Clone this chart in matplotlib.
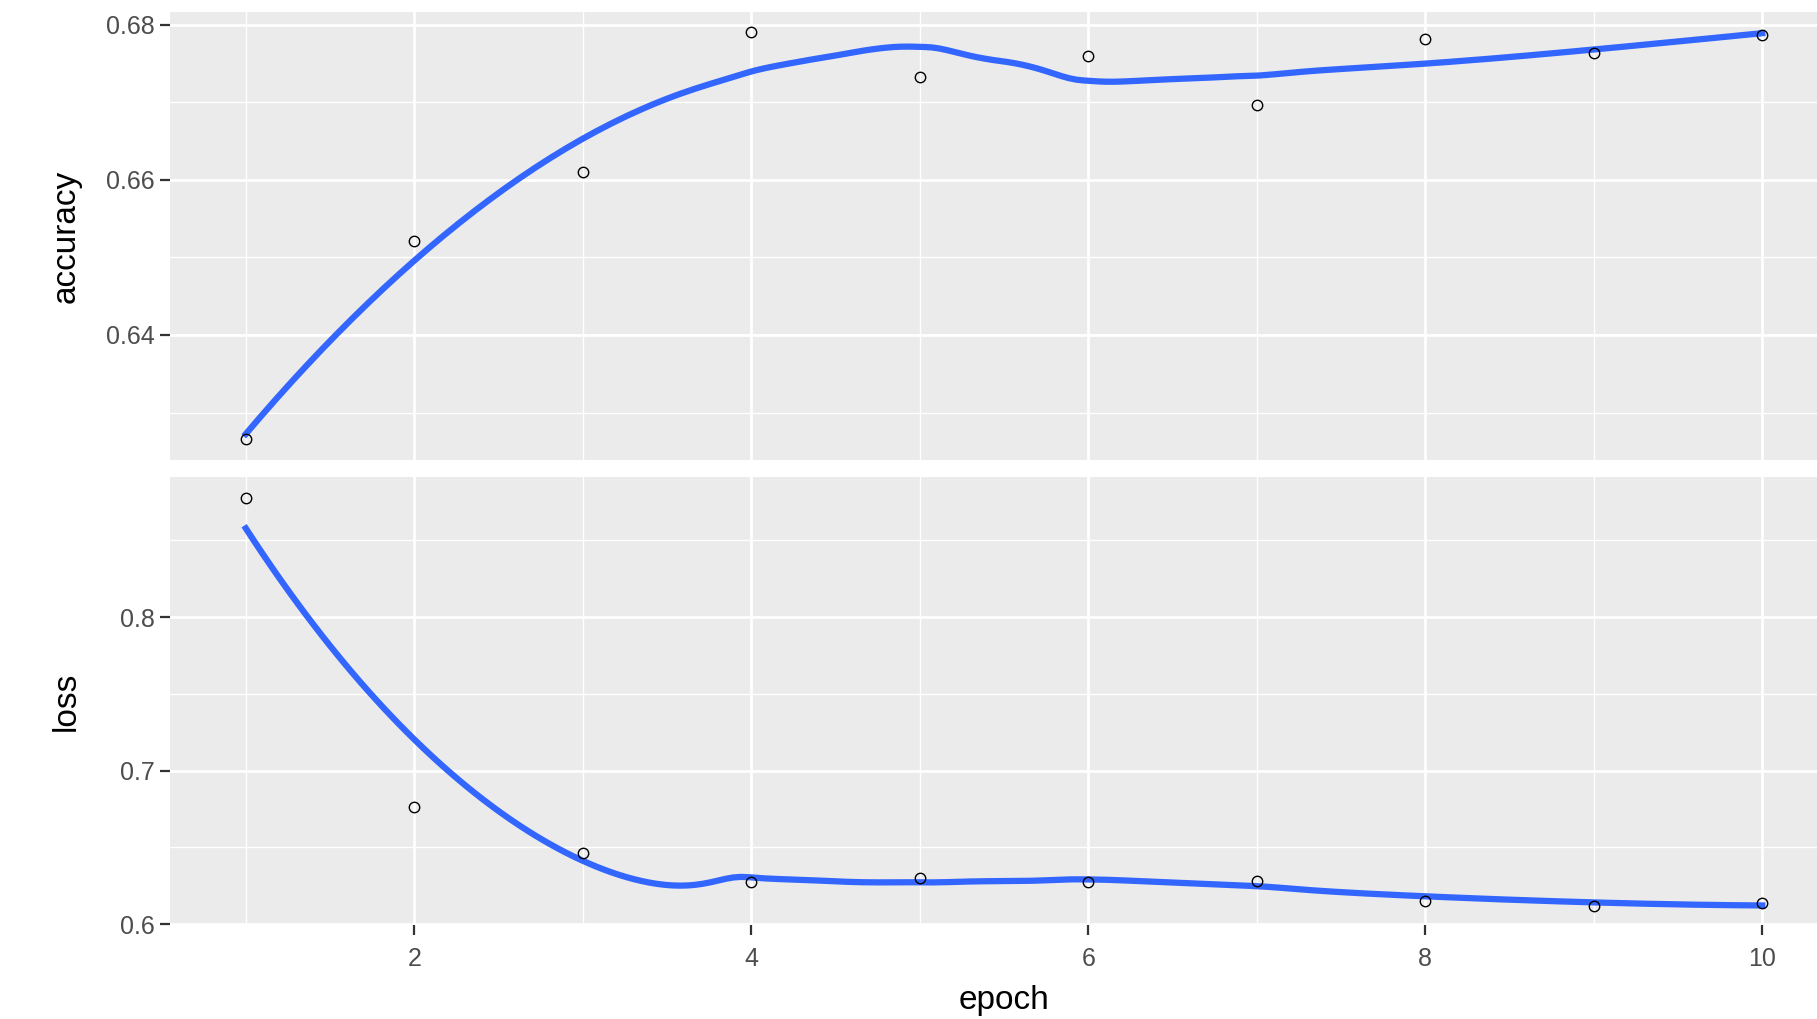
import matplotlib
matplotlib.use("Agg")
import matplotlib.pyplot as plt
import numpy as np

# values
epoch = np.arange(1, 11)
accuracy = [0.6266, 0.6521, 0.6610, 0.6790, 0.6733, 0.6760, 0.6696, 0.6782, 0.6764, 0.6787]
loss = [0.8777, 0.6762, 0.6464, 0.6277, 0.6300, 0.6272, 0.6279, 0.6151, 0.6121, 0.6136]

acc_yticks = [0.64, 0.66, 0.68]
loss_yticks = [0.6, 0.7, 0.8]
x_ticks = [2, 4, 6, 8, 10]

BG = '#EBEBEB'
LINE = '#3366FF'

plt.rcParams['font.family'] = ['Liberation Sans', 'DejaVu Sans']


def loess(x, y, xs, span=0.75):
    # local quadratic fit with tricube weights, like geom_smooth's default
    x = np.asarray(x, float)
    y = np.asarray(y, float)
    q = int(np.floor(len(x) * span))
    fit = []
    for x0 in xs:
        d = np.abs(x - x0)
        h = np.sort(d)[q - 1] * 1.0000001
        w = np.clip(1 - (d / h) ** 3, 0, None) ** 3
        X = np.vstack([np.ones_like(x), x - x0, (x - x0) ** 2]).T
        sw = np.sqrt(w)
        beta = np.linalg.lstsq(X * sw[:, None], y * sw, rcond=None)[0]
        fit.append(beta[0])
    return np.array(fit)


def style_panel(ax, yticks, yminor, ylabel):
    ax.set_facecolor(BG)
    for s in ax.spines.values():
        s.set_visible(False)
    ax.set_xlim(0.55, 10.45)
    ax.set_xticks(x_ticks)
    ax.set_xticks([1, 3, 5, 7, 9], minor=True)
    ax.set_yticks(yticks)
    ax.set_yticks(yminor, minor=True)
    ax.grid(which='major', color='white', linewidth=2.0)
    ax.grid(which='minor', color='white', linewidth=1.0)
    ax.set_axisbelow(True)
    ax.tick_params(which='major', length=7, width=1.6, color='#333333',
                   labelcolor='#4D4D4D', labelsize=18, pad=4)
    ax.tick_params(which='minor', length=0)
    ax.set_ylabel(ylabel, fontsize=24, color='black')
    ax.yaxis.set_label_coords(-0.053, 0.5)


fig = plt.figure(figsize=(18.17, 10.19), dpi=100)
W, H = 1817, 1019
left, right = 170 / W, 1838 / W
ax1 = fig.add_axes([left, 1 - 460 / H, right - left, (460 - 12) / H])
ax2 = fig.add_axes([left, 1 - 925 / H, right - left, (925 - 477) / H])

xs = np.linspace(1, 10, 200)

ax1.plot(xs, loess(epoch, accuracy, xs), color=LINE, linewidth=4.5, zorder=3)
ax1.plot(epoch, accuracy, 'o', mfc='none', mec='black', ms=7.5, mew=1.0, zorder=4)
style_panel(ax1, acc_yticks, [0.63, 0.65, 0.67], 'accuracy')
ax1.set_ylim(0.62388, 0.68164)
ax1.set_yticklabels(['0.64', '0.66', '0.68'])
ax1.tick_params(axis='x', which='both', length=0, labelbottom=False)

ax2.plot(xs, loess(epoch, loss, xs), color=LINE, linewidth=4.5, zorder=3)
ax2.plot(epoch, loss, 'o', mfc='none', mec='black', ms=7.5, mew=1.0, zorder=4)
style_panel(ax2, loss_yticks, [0.65, 0.75, 0.85], 'loss')
ax2.set_ylim(0.5995, 0.8913)
ax2.set_yticklabels(['0.6', '0.7', '0.8'])
ax2.tick_params(axis='x', pad=9)
ax2.set_xlabel('epoch', fontsize=24, color='black', labelpad=10)

fig.savefig('out.png', dpi=100, facecolor='white')
